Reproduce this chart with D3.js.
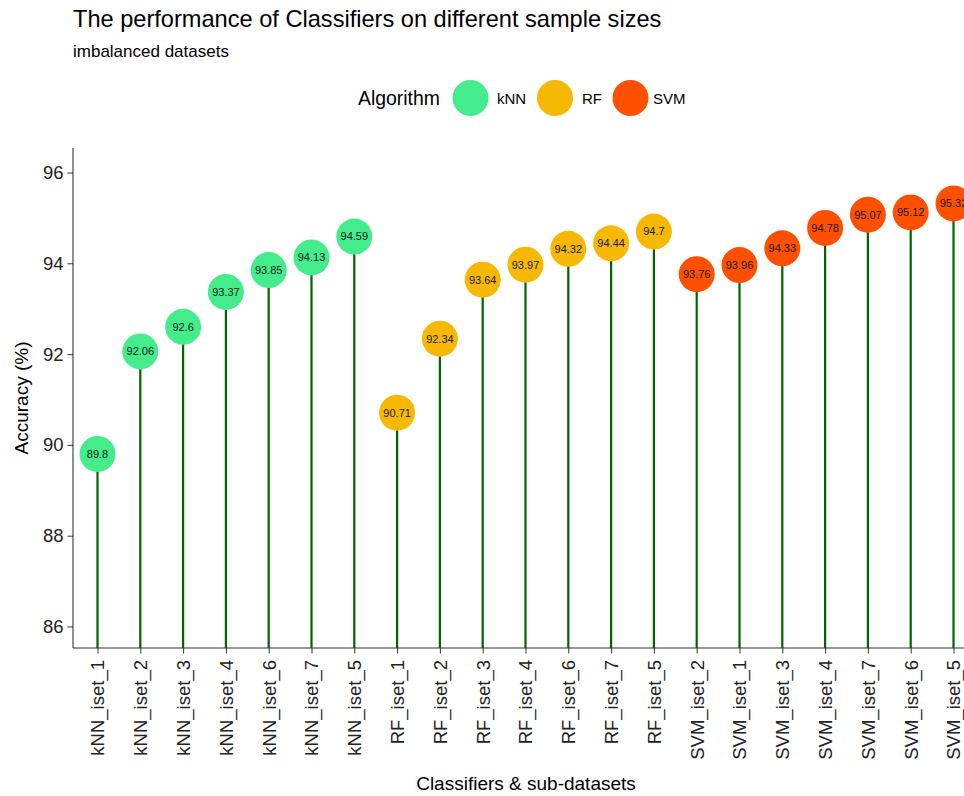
<!doctype html>
<html>
<head>
<meta charset="utf-8">
<script src="https://cdn.jsdelivr.net/npm/d3@7"></script>
<style>
  body { margin: 0; background: #fff; }
  svg text { font-family: "Liberation Sans", Arial, sans-serif; }
</style>
</head>
<body>
<svg id="chart" width="964" height="796"></svg>
<script>
  // data
  var labels = ['kNN_iset_1', 'kNN_iset_2', 'kNN_iset_3', 'kNN_iset_4', 'kNN_iset_6', 'kNN_iset_7', 'kNN_iset_5',
    'RF_iset_1', 'RF_iset_2', 'RF_iset_3', 'RF_iset_4', 'RF_iset_6', 'RF_iset_7', 'RF_iset_5',
    'SVM_iset_2', 'SVM_iset_1', 'SVM_iset_3', 'SVM_iset_4', 'SVM_iset_7', 'SVM_iset_6', 'SVM_iset_5'];
  var accuracy = [89.8, 92.06, 92.6, 93.37, 93.85, 94.13, 94.59,
    90.71, 92.34, 93.64, 93.97, 94.32, 94.44, 94.7,
    93.76, 93.96, 94.33, 94.78, 95.07, 95.12, 95.32];
  var algorithms = ['kNN', 'RF', 'SVM'];
  var yTicks = [86, 88, 90, 92, 94, 96];

  var colour = d3.scaleOrdinal()
    .domain(algorithms)
    .range(['#45ec8b', '#f6b800', '#ff5000']);

  var svg = d3.select('#chart');

  var plotTop = 148, plotBottom = 648, plotLeft = 73;

  var x = d3.scalePoint().domain(labels).range([97.5, 953.5]);
  var y = d3.scaleLinear().domain([85.526, 96.54]).range([plotBottom, plotTop]);

  var rows = labels.map(function (l, i) {
    return { label: l, value: accuracy[i], algo: l.split('_')[0] };
  });

  // titles
  svg.append('text').attr('x', 73).attr('y', 27)
    .style('font-size', '23.6px').attr('fill', '#000')
    .text('The performance of Classifiers on different sample sizes');
  svg.append('text').attr('x', 73).attr('y', 56.5)
    .style('font-size', '17px').attr('fill', '#000')
    .text('imbalanced datasets');

  // legend
  var legend = svg.append('g');
  legend.append('text').attr('x', 358).attr('y', 105)
    .style('font-size', '19.4px').text('Algorithm');
  var legendX = [470.5, 555, 630.5];
  var legendTextX = [497, 582, 653];
  algorithms.forEach(function (a, i) {
    legend.append('circle').attr('cx', legendX[i]).attr('cy', 98).attr('r', 18)
      .attr('fill', colour(a));
    legend.append('text').attr('x', legendTextX[i]).attr('y', 103.5)
      .style('font-size', '15px').text(a);
  });

  // stems
  svg.append('g').selectAll('line')
    .data(rows)
    .enter().append('line')
    .attr('x1', function (d) { return x(d.label); })
    .attr('x2', function (d) { return x(d.label); })
    .attr('y1', plotBottom)
    .attr('y2', function (d) { return y(d.value); })
    .attr('stroke', '#006400')
    .attr('stroke-width', 2.2);

  // points
  var pts = svg.append('g').selectAll('g')
    .data(rows)
    .enter().append('g')
    .attr('transform', function (d) { return 'translate(' + x(d.label) + ',' + y(d.value) + ')'; });
  pts.append('circle').attr('r', 18).attr('fill', function (d) { return colour(d.algo); });
  pts.append('text')
    .attr('text-anchor', 'middle')
    .attr('dy', '0.36em')
    .style('font-size', '11px')
    .attr('fill', '#1a1a1a')
    .text(function (d) { return d.value; });

  // axes
  var yAxis = svg.append('g')
    .attr('transform', 'translate(' + plotLeft + ',0)')
    .call(d3.axisLeft(y).tickValues(yTicks).tickSize(5.5).tickPadding(4));
  yAxis.select('.domain').attr('d', 'M0,' + plotTop + 'V' + plotBottom).attr('stroke', '#333').attr('stroke-width', 1.1);
  yAxis.selectAll('.tick line').attr('stroke', '#333');
  yAxis.selectAll('.tick text').style('font-size', '18.5px').attr('fill', '#222');

  var xAxis = svg.append('g')
    .attr('transform', 'translate(0,' + plotBottom + ')')
    .call(d3.axisBottom(x).tickSize(5.5).tickPadding(0));
  xAxis.select('.domain').attr('d', 'M' + plotLeft + ',0H980').attr('stroke', '#333').attr('stroke-width', 1.1);
  xAxis.selectAll('.tick line').attr('stroke', '#333');
  xAxis.selectAll('.tick text')
    .style('font-size', '18.5px').attr('fill', '#222')
    .attr('text-anchor', 'end')
    .attr('transform', 'rotate(-90)')
    .attr('x', -12)
    .attr('y', 0)
    .attr('dy', '0.35em');

  // axis titles
  svg.append('text').attr('x', 526).attr('y', 790)
    .attr('text-anchor', 'middle').style('font-size', '19px')
    .text('Classifiers & sub-datasets');
  svg.append('text')
    .attr('transform', 'translate(28,' + ((plotTop + plotBottom) / 2) + ') rotate(-90)')
    .attr('text-anchor', 'middle').style('font-size', '19px')
    .text('Accuracy (%)');
</script>
</body>
</html>
